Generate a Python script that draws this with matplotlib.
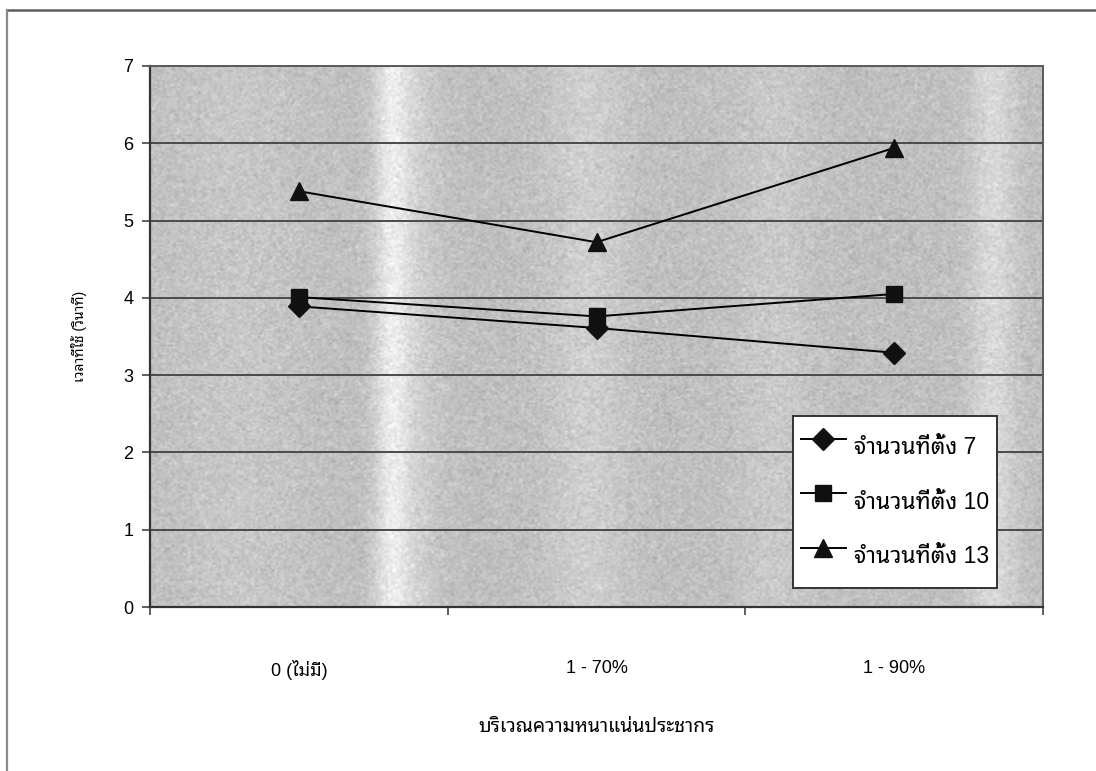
import numpy as np
import matplotlib
matplotlib.use("Agg")
import matplotlib.pyplot as plt
from matplotlib.lines import Line2D

# ข้อมูลเวลาที่ใช้ (วินาที) แยกตามจำนวนที่ตั้ง
categories = ["0 (ไม่มี)", "1 - 70%", "1 - 90%"]
series_names = ["จำนวนที่ตั้ง 7", "จำนวนที่ตั้ง 10", "จำนวนที่ตั้ง 13"]
time_7 = [3.89, 3.61, 3.29]
time_10 = [4.01, 3.76, 4.05]
time_13 = [5.38, 4.72, 5.94]
y_ticks = [0, 1, 2, 3, 4, 5, 6, 7]

thai = ["Liberation Sans", "Noto Sans Thai Looped", "DejaVu Sans"]
plt.rcParams["font.family"] = thai

fig = plt.figure(figsize=(10.96, 7.71), dpi=100)
fig.patch.set_facecolor("white")

# กรอบของแผนภูมิ (ด้านบนและด้านซ้าย)
fig.add_artist(Line2D([7 / 1096, 1.0], [1 - 10 / 771] * 2, color="#5e5e5e", lw=1.8))
fig.add_artist(Line2D([7 / 1096] * 2, [0.0, 1 - 10 / 771], color="#8a8a8a", lw=1.6))

ax = fig.add_axes([150 / 1096, 1 - 607 / 771, 893 / 1096, 541 / 771])

# พื้นหลังสีเทาแบบสแกน มีแถบสว่างแนวตั้ง
w, h = 900, 270
xs = np.linspace(0, 1, w)
profile = np.full(w, 0.75)
for c, width, amp in [(0.27, 0.013, 0.13), (0.29, 0.022, 0.07), (0.49, 0.03, 0.06),
                      (0.70, 0.03, 0.04), (0.945, 0.018, 0.10), (0.10, 0.05, 0.03)]:
    profile += amp * np.exp(-0.5 * ((xs - c) / width) ** 2)
rng = np.random.default_rng(3)
grain = rng.normal(0, 0.05, (h, w))
k = np.ones(3) / 3
grain = np.apply_along_axis(lambda r: np.convolve(r, k, mode="same"), 1, grain)
tex = np.clip(profile[None, :] + grain, 0, 1)
ax.imshow(tex, cmap="gray", vmin=0, vmax=1, extent=[0, 1, 0, 1], transform=ax.transAxes,
          aspect="auto", zorder=0, interpolation="bilinear")

x = np.arange(len(categories))
style = dict(color="black", lw=1.4, markeredgecolor="#111111", markerfacecolor="#111111", zorder=3)
ax.plot(x, time_7, marker="D", ms=11, label=series_names[0], **style)
ax.plot(x, time_10, marker="s", ms=11, label=series_names[1], **style)
ax.plot(x, time_13, marker="^", ms=13, label=series_names[2], **style)

ax.set_xlim(-0.5, len(categories) - 0.5)
ax.set_ylim(0, 7)
ax.set_yticks(y_ticks)
ax.set_yticklabels([str(v) for v in y_ticks], fontsize=13)
ax.set_xticks(x)
ax.set_xticklabels(categories, fontsize=13)
ax.tick_params(axis="x", length=0, pad=38)
ax.set_xticks(np.arange(len(categories) + 1) - 0.5, minor=True)
ax.tick_params(axis="x", which="minor", length=6, width=1.2, color="#444444", direction="out")
ax.tick_params(axis="y", length=6, width=1.2, color="#444444", direction="out", pad=6)

ax.set_axisbelow(True)
ax.yaxis.grid(True, color="#4a4a4a", lw=1.4, zorder=1)
for side in ["left", "bottom"]:
    ax.spines[side].set_color("#333333")
    ax.spines[side].set_linewidth(1.6)
for side in ["top", "right"]:
    ax.spines[side].set_color("#5a5a5a")
    ax.spines[side].set_linewidth(1.4)

ax.set_ylabel("เวลาที่ใช้ (วินาที)", fontsize=10, labelpad=26)
ax.set_xlabel("บริเวณความหนาแน่นประชากร", fontsize=14, labelpad=28)

leg = ax.legend(loc="upper left", bbox_to_anchor=(793 / 1096, 1 - 416 / 771),
                bbox_transform=fig.transFigure, fontsize=16.5, frameon=True, fancybox=False,
                handlelength=1.95, handleheight=2.8, labelspacing=0.3, borderpad=0.35,
                handletextpad=0.35, borderaxespad=0)
leg.get_frame().set_edgecolor("#333333")
leg.get_frame().set_linewidth(1.4)
leg.get_frame().set_facecolor("white")
leg.get_frame().set_alpha(1)

fig.savefig("out.png", dpi=100)
